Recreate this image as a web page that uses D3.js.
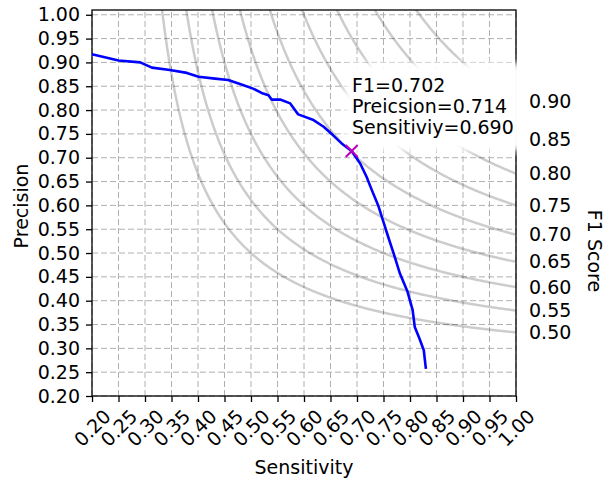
<!DOCTYPE html>
<html>
<head>
<meta charset="utf-8">
<script src="https://cdn.jsdelivr.net/npm/d3@7"></script>
<style>
  body { margin: 0; background: #fff; }
  text { font-family: "DejaVu Sans", sans-serif; }
</style>
</head>
<body>
<svg id="chart" width="611" height="485"></svg>
<script>
// precision / sensitivity curve
const sensitivity = [0.200, 0.250, 0.291, 0.313, 0.347, 0.379, 0.401, 0.432, 0.457, 0.486, 0.504, 0.520,
    0.533, 0.539, 0.555, 0.574, 0.589, 0.618, 0.637, 0.655, 0.671, 0.690, 0.706, 0.718, 0.728, 0.740,
    0.750, 0.760, 0.770, 0.781, 0.795, 0.805, 0.809, 0.818, 0.826, 0.830];
const precision = [0.917, 0.904, 0.900, 0.889, 0.884, 0.878, 0.870, 0.866, 0.863, 0.852, 0.845, 0.836,
    0.831, 0.822, 0.822, 0.814, 0.791, 0.779, 0.765, 0.747, 0.730, 0.714, 0.688, 0.660, 0.632, 0.600,
    0.565, 0.530, 0.496, 0.457, 0.420, 0.380, 0.345, 0.320, 0.296, 0.257];

const xTicks = [0.20, 0.25, 0.30, 0.35, 0.40, 0.45, 0.50, 0.55, 0.60, 0.65, 0.70, 0.75, 0.80, 0.85, 0.90, 0.95, 1.00];
const yTicks = [0.20, 0.25, 0.30, 0.35, 0.40, 0.45, 0.50, 0.55, 0.60, 0.65, 0.70, 0.75, 0.80, 0.85, 0.90, 0.95, 1.00];
const f1Levels = [0.50, 0.55, 0.60, 0.65, 0.70, 0.75, 0.80, 0.85, 0.90];

const bestF1 = 0.702, bestPrecision = 0.714, bestSensitivity = 0.690;

let svg = d3.select("#chart"),
    margin = {top: 10, right: 95, bottom: 89, left: 92},
    width = +svg.attr("width") - margin.left - margin.right,
    height = +svg.attr("height") - margin.top - margin.bottom,
    g = svg.append("g").attr("transform", "translate(" + margin.left + "," + margin.top + ")");

let x = d3.scaleLinear().domain([0.2, 1.0]).range([0, width]);
let y = d3.scaleLinear().domain([0.2, 1.01]).range([height, 0]);

let defs = svg.append("defs");
defs.append("clipPath").attr("id", "plot-clip")
    .append("rect").attr("width", width).attr("height", height);
defs.append("filter").attr("id", "soft").attr("x", "-30%").attr("y", "-30%").attr("width", "160%").attr("height", "160%")
    .append("feGaussianBlur").attr("stdDeviation", 3.5);

// grid
let grid = g.append("g").attr("stroke", "#b0b0b0").attr("stroke-width", 1).attr("stroke-dasharray", "6,3");
grid.selectAll(".vg").data(xTicks).enter().append("line")
    .attr("x1", d => x(d)).attr("x2", d => x(d))
    .attr("y1", height).attr("y2", 0);
grid.selectAll(".hg").data(yTicks).enter().append("line")
    .attr("y1", d => y(d)).attr("y2", d => y(d))
    .attr("x1", 0).attr("x2", width);

// iso F1 curves
let isoLine = d3.line().x(d => x(d[0])).y(d => y(d[1]));
let iso = g.append("g").attr("clip-path", "url(#plot-clip)");
f1Levels.forEach(function (f) {
    let rStart = f * 1.02 / (2 * 1.02 - f);
    let pts = [];
    for (let r = rStart; r <= 1.0001; r += 0.002) {
        pts.push([r, f * r / (2 * r - f)]);
    }
    iso.append("path").attr("d", isoLine(pts))
        .attr("fill", "none").attr("stroke", "#000").attr("stroke-opacity", 0.2).attr("stroke-width", 2.5);
});

// frame
g.append("rect").attr("width", width).attr("height", height)
    .attr("fill", "none").attr("stroke", "#000").attr("stroke-width", 1.3);

// axes
let yAxis = g.append("g")
    .call(d3.axisLeft(y).tickValues(yTicks).tickSize(6).tickSizeOuter(0).tickPadding(6).tickFormat(d3.format(".2f")));
yAxis.select(".domain").remove();

let xAxis = g.append("g").attr("transform", "translate(0," + height + ")")
    .call(d3.axisBottom(x).tickValues(xTicks).tickSize(6).tickSizeOuter(0).tickPadding(0).tickFormat(d3.format(".2f")));
xAxis.select(".domain").remove();
xAxis.selectAll("text")
    .attr("y", null).attr("dy", "0.35em")
    .attr("text-anchor", "middle")
    .attr("transform", "translate(0,32) rotate(-45)");

// soft white box behind the annotation
g.append("rect")
    .attr("x", 345 - margin.left).attr("y", 63 - margin.top)
    .attr("width", 178).attr("height", 88)
    .attr("fill", "#fff").attr("filter", "url(#soft)");

let f1Axis = g.append("g").attr("transform", "translate(" + width + ",0)")
    .call(d3.axisRight(y).tickValues(f1Levels.map(f => f / (2 - f))).tickSize(0).tickPadding(13)
        .tickFormat((d, i) => f1Levels[i].toFixed(2)));
f1Axis.select(".domain").remove();

svg.selectAll(".tick line").attr("stroke", "#000").attr("stroke-width", 1.3);
svg.selectAll(".tick text").attr("font-size", 19).attr("fill", "#000")
    .attr("font-family", "'DejaVu Sans', sans-serif");

// precision / sensitivity curve
let prLine = d3.line().x((d, i) => x(sensitivity[i])).y((d, i) => y(precision[i]));
g.append("path").datum(sensitivity)
    .attr("d", prLine)
    .attr("fill", "none").attr("stroke", "#0000ff").attr("stroke-width", 2.6)
    .attr("stroke-linejoin", "round");

// best point marker
let mx = x(bestSensitivity), my = y(bestPrecision), ms = 6;
g.append("path")
    .attr("d", "M" + (mx - ms) + "," + (my - ms) + "L" + (mx + ms) + "," + (my + ms) +
        "M" + (mx - ms) + "," + (my + ms) + "L" + (mx + ms) + "," + (my - ms))
    .attr("stroke", "#bf00bf").attr("stroke-width", 2);

// annotation
let note = g.append("text").attr("font-size", 19).attr("fill", "#000");
["F1=" + bestF1.toFixed(3), "Preicsion=" + bestPrecision.toFixed(3), "Sensitiviy=" + bestSensitivity.toFixed(3)]
    .forEach(function (t, i) {
        note.append("tspan").attr("x", 352 - margin.left).attr("y", 92 - margin.top + i * 21).text(t);
    });

// axis titles
svg.append("text").attr("x", 304).attr("y", 474).attr("text-anchor", "middle")
    .attr("font-size", 19).text("Sensitivity");
svg.append("text").attr("transform", "translate(27.5,206) rotate(-90)").attr("text-anchor", "middle")
    .attr("font-size", 19).text("Precision");
svg.append("text").attr("transform", "translate(588,251) rotate(90)").attr("text-anchor", "middle")
    .attr("font-size", 19).text("F1 Score");
</script>
</body>
</html>
